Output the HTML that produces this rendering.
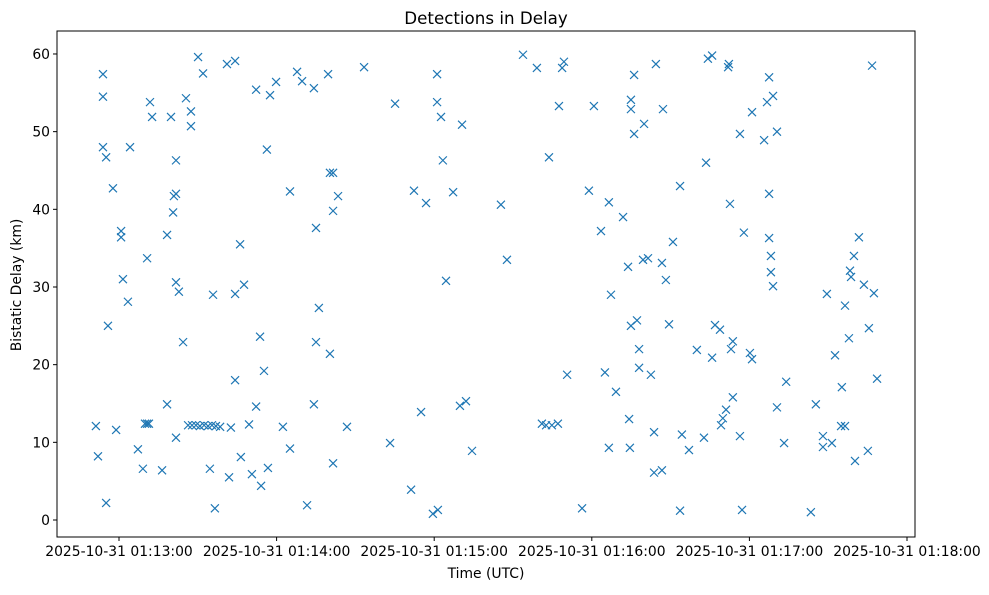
<!DOCTYPE html>
<html><head><meta charset="utf-8"><style>
body{margin:0;background:#fff;}
svg text{font-family:"DejaVu Sans","Liberation Sans",sans-serif;fill:#000;}
</style></head><body>
<svg id="chart" width="989" height="590" xmlns="http://www.w3.org/2000/svg">
<rect width="989" height="590" fill="#fff"/>
<text x="486" y="24" font-size="16.7" text-anchor="middle">Detections in Delay</text>
<text x="486" y="578" font-size="13.9" text-anchor="middle">Time (UTC)</text>
<text transform="translate(21,285) rotate(-90)" font-size="13.9" text-anchor="middle">Bistatic Delay (km)</text>
<g id="marks"></g>
<g id="axes"></g>
</svg>
<script>
const tickSecs = [0, 60, 120, 180, 240, 300];
const tickLabels = ["2025-10-31 01:13:00","2025-10-31 01:14:00","2025-10-31 01:15:00","2025-10-31 01:16:00","2025-10-31 01:17:00","2025-10-31 01:18:00"];
const yTicks = [0, 10, 20, 30, 40, 50, 60];
// seconds after 01:13:00
const times = [-8.8,-8.0,-6.1,-6.1,-6.1,-4.9,-4.9,-4.2,-2.3,-1.1,0.8,0.8,1.5,3.4,4.2,7.2,9.1,10.7,9.9,10.7,11.4,11.8,12.6,16.4,18.3,18.3,19.8,20.6,20.9,21.7,21.7,21.7,21.7,22.8,24.4,25.5,
26.3,27.8,29.3,30.8,32.4,33.9,35.4,36.9,38.5,27.4,27.4,30.1,32.0,34.6,35.8,36.5,41.1,41.9,42.6,44.2,44.2,44.2,46.1,46.4,47.6,49.5,50.6,52.2,52.2,53.7,54.1,55.2,56.3,56.7,57.5,59.8,
62.4,65.1,65.1,67.8,69.7,71.6,74.2,74.2,75.0,75.0,76.1,79.6,80.3,80.3,81.5,81.5,81.5,83.4,86.8,93.3,103.2,105.1,111.2,112.3,115.0,116.9,119.5,121.4,121.1,121.1,122.6,123.3,124.5,127.2,129.8,130.6,132.1,134.4,
145.4,147.7,153.8,159.1,161.0,162.6,163.7,164.8,167.1,167.5,168.7,169.4,170.6,176.3,178.9,180.8,183.5,185.0,186.5,186.5,187.3,189.2,191.9,193.8,194.2,194.5,194.9,194.9,194.9,196.1,196.1,197.2,198.0,198.0,199.5,199.9,201.4,202.5,203.7,203.7,204.4,206.7,206.7,207.1,208.2,209.4,210.9,
213.6,213.6,214.3,217.0,220.0,222.7,223.5,224.2,225.8,225.8,226.9,228.8,229.2,229.9,231.1,231.9,232.2,232.6,233.0,233.7,233.7,236.4,236.4,237.2,237.9,240.2,241.0,241.0,245.6,246.7,247.5,247.5,247.5,248.2,248.2,249.0,249.0,250.5,250.5,253.2,254.0,
263.4,265.3,268.0,268.0,269.5,271.4,272.6,275.2,274.9,276.4,276.4,277.9,278.3,278.7,279.8,280.2,281.7,283.6,285.1,285.5,286.7,287.4,288.6];
const delays = [12.1,8.2,57.4,54.5,48.0,46.7,2.2,25.0,42.7,11.6,37.2,36.4,31.0,28.1,48.0,9.1,6.6,33.7,12.4,12.4,12.4,53.8,51.9,6.4,14.9,36.7,51.9,39.6,41.7,42.0,46.3,30.6,10.6,29.4,22.9,54.3,
12.2,12.2,12.2,12.1,12.2,12.1,12.2,12.1,12.0,52.6,50.7,59.6,57.5,6.6,29.0,1.5,58.7,5.5,11.9,59.1,29.1,18.0,35.5,8.1,30.3,12.3,5.9,14.6,55.4,23.6,4.4,19.2,47.7,6.7,54.7,56.4,
12.0,9.2,42.3,57.7,56.5,1.9,55.6,14.9,37.6,22.9,27.3,57.4,21.4,44.7,44.7,39.8,7.3,41.7,12.0,58.3,9.9,53.6,3.9,42.4,13.9,40.8,0.8,1.3,57.4,53.8,51.9,46.3,30.8,42.2,14.7,50.9,15.3,8.9,
40.6,33.5,59.9,58.2,12.4,12.2,46.7,12.2,12.4,53.3,58.2,59.0,18.7,1.5,42.4,53.3,37.2,19.0,9.3,40.9,29.0,16.5,39.0,32.6,13.0,9.3,25.0,54.1,52.9,57.3,49.7,25.7,22.0,19.6,33.5,51.0,33.7,18.7,11.3,6.1,58.7,6.4,33.1,52.9,30.9,25.2,35.8,
43.0,1.2,11.0,9.0,21.9,10.6,46.0,59.4,59.8,20.9,25.1,24.5,12.2,13.1,14.2,58.3,58.7,40.7,22.0,23.0,15.8,49.7,10.8,1.3,37.0,21.5,20.7,52.5,48.9,53.8,57.0,42.0,36.3,34.0,31.9,30.1,54.6,50.0,14.5,9.9,17.8,
1.0,14.9,10.8,9.4,29.1,9.9,21.2,17.1,12.1,12.1,27.6,23.4,32.1,31.3,34.0,7.6,36.4,30.3,8.9,24.7,58.5,29.2,18.2];

const L=57, R=915, T=31, B=537;
function xs(t){ return 119 + t*157.6/60; }
function ys(v){ return 520 - v*7.767; }
const NS="http://www.w3.org/2000/svg";
const marks=document.getElementById('marks');
const axes=document.getElementById('axes');
function mk(tag, attrs, parent){ const e=document.createElementNS(NS,tag); for(const k in attrs) e.setAttribute(k,attrs[k]); parent.appendChild(e); return e; }

const n=Math.min(times.length, delays.length);
for(let i=0;i<n;i++){
  const cx=xs(times[i]), cy=ys(delays[i]), s=4;
  const p=mk('path',{d:`M${cx-s},${cy-s}L${cx+s},${cy+s}M${cx-s},${cy+s}L${cx+s},${cy-s}`,stroke:'#1f77b4','stroke-width':1.2,fill:'none'},marks);
  
  
}
const frame=mk('rect',{x:L,y:T,width:R-L,height:B-T,fill:'none',stroke:'#000','stroke-width':1},axes);


tickSecs.forEach((t,i)=>{
  const x=xs(t);
  mk('line',{x1:x,x2:x,y1:B,y2:B+4,stroke:'#000'},axes);
  const tx=mk('text',{x:x,y:B+19,'font-size':13.9,'text-anchor':'middle'},axes);
  tx.textContent=tickLabels[i];
  
  
});
yTicks.forEach(v=>{
  const y=ys(v);
  mk('line',{x1:L-4,x2:L,y1:y,y2:y,stroke:'#000'},axes);
  const tx=mk('text',{x:L-7,y:y+5,'font-size':13.9,'text-anchor':'end'},axes);
  tx.textContent=v;
  
  
});
</script>
</body></html>
